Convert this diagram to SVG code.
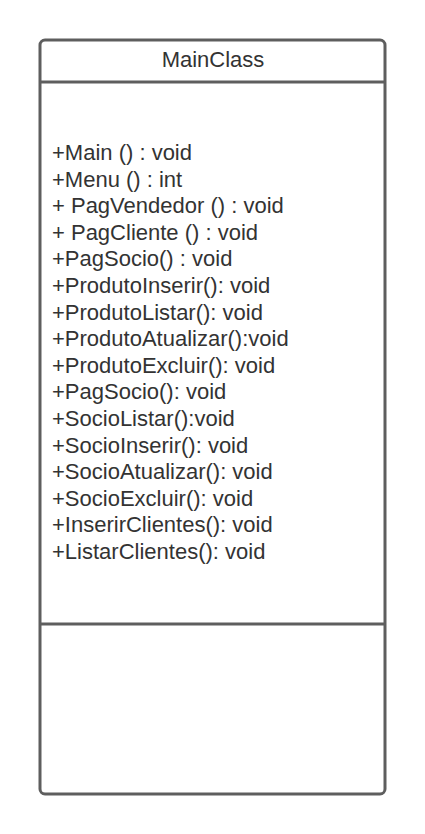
<svg xmlns="http://www.w3.org/2000/svg" width="425" height="834" viewBox="0 0 425 834">
<style>
.b{fill:#fff;stroke:#5e5e5e;stroke-width:3}
.l{stroke:#5e5e5e;stroke-width:3}
text{font-family:"Liberation Sans",Arial,sans-serif;font-size:22px;fill:#333}
</style>
<rect width="425" height="834" fill="#fff"/>
<g id="MainClass">
<rect class="b" x="40" y="40" width="345" height="754" rx="5"/>
<line class="l" x1="40" y1="82" x2="385" y2="82"/>
<line class="l" x1="40" y1="624" x2="385" y2="624"/>
<text x="213" y="67" text-anchor="middle">MainClass</text>
<text x="52" y="160">+Main () : void</text>
<text x="52" y="186.6">+Menu () : int</text>
<text x="52" y="213.2">+ PagVendedor () : void</text>
<text x="52" y="239.8">+ PagCliente () : void</text>
<text x="52" y="266.4">+PagSocio() : void</text>
<text x="52" y="293">+ProdutoInserir(): void</text>
<text x="52" y="319.6">+ProdutoListar(): void</text>
<text x="52" y="346.2">+ProdutoAtualizar():void</text>
<text x="52" y="372.8">+ProdutoExcluir(): void</text>
<text x="52" y="399.4">+PagSocio(): void</text>
<text x="52" y="426">+SocioListar():void</text>
<text x="52" y="452.6">+SocioInserir(): void</text>
<text x="52" y="479.2">+SocioAtualizar(): void</text>
<text x="52" y="505.8">+SocioExcluir(): void</text>
<text x="52" y="532.4">+InserirClientes(): void</text>
<text x="52" y="559">+ListarClientes(): void</text>
</g>
</svg>
